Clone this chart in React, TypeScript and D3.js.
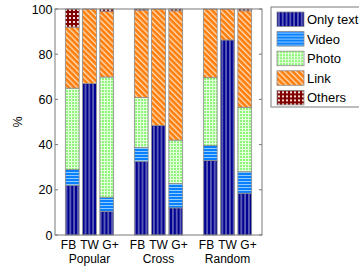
import * as d3 from "d3";

const GROUPS = ["Popular", "Cross", "Random"];
const NETWORKS = ["FB", "TW", "G+"];
const SERIES = ["Only text", "Video", "Photo", "Link", "Others"];

// one value per bar: Popular FB/TW/G+, Cross FB/TW/G+, Random FB/TW/G+
const onlyText = [22, 67, 10.5, 32.5, 48.5, 12, 33, 86.3, 18.5];
const video = [7, 0, 6.2, 6.3, 0, 10.8, 6.6, 0, 9.5];
const photo = [36, 0, 53.2, 22, 0, 19.2, 30, 0, 28.5];
const link = [27, 33, 29.1, 38.7, 51.5, 57.2, 30.4, 13.7, 42.7];
const others = [8, 0, 1, 0.5, 0, 0.8, 0, 0, 0.8];

const yTicks = [0, 20, 40, 60, 80, 100];

const W = 359, H = 266;
const M = { left: 55, right: 262, top: 9, bottom: 235 };
const FONT = "'Liberation Sans', Arial, sans-serif";
const FRAME = "#7a7a7a";
const PAT_IDS = ["pText", "pVideo", "pPhoto", "pLink", "pOthers"];

export default function App() {
  const rows = onlyText.map((_, i) => ({
    i,
    "Only text": onlyText[i],
    Video: video[i],
    Photo: photo[i],
    Link: link[i],
    Others: others[i],
  }));
  const stack = d3.stack<any>().keys(SERIES)(rows);

  // slot positions: groups of 3 bars with a one-slot gap
  const slot = (i: number) => Math.floor(i / 3) * 4 + (i % 3) + 1;
  const x = d3.scaleLinear().domain([0, 12]).range([M.left, M.right]);
  const y = d3.scaleLinear().domain([0, 100]).range([M.bottom, M.top]);
  const bw = (x(1) - x(0)) * 0.8;
  // the network labels sit a little wider apart than the bars (one spaced string in the original)
  const labelStep = 21;

  return (
    <svg width={W} height={H} style={{ position: "absolute", left: 0, top: 0, background: "#fff" }} fontFamily={FONT}>
      <defs>
        <pattern id="pText" patternUnits="userSpaceOnUse" width={3.8} height={4}>
          <rect width={3.8} height={4} fill="#00008f" />
          <rect x={1.4} width={1} height={4} fill="#a9acd6" />
        </pattern>
        <pattern id="pVideo" patternUnits="userSpaceOnUse" width={4} height={3}>
          <rect width={4} height={3} fill="#0a80ff" />
          <rect y={1} width={4} height={1} fill="#8fcbff" />
        </pattern>
        <pattern id="pPhoto" patternUnits="userSpaceOnUse" width={3} height={3}>
          <rect width={3} height={3} fill="#e4ffdc" />
          <rect width={2} height={2} fill="#8ef57a" />
        </pattern>
        <pattern id="pLink" patternUnits="userSpaceOnUse" width={4} height={4} patternTransform="rotate(-45)">
          <rect width={4} height={4} fill="#ff7d0a" />
          <rect width={1.3} height={4} fill="#ffe0bf" />
        </pattern>
        <pattern id="pOthers" patternUnits="userSpaceOnUse" width={4} height={4}>
          <rect width={4} height={4} fill="#800000" />
          <rect x={1} y={1} width={2} height={2} fill="#f4dada" />
        </pattern>
      </defs>

      {/* bars */}
      {stack.map((layer, si) =>
        layer.map((d, i) =>
          d[1] - d[0] > 0 ? (
            <rect
              key={`${si}-${i}`}
              x={x(slot(i)) - bw / 2}
              y={y(d[1])}
              width={bw}
              height={y(d[0]) - y(d[1])}
              fill={`url(#${PAT_IDS[si]})`}
              stroke="#8a8a8a"
              strokeWidth={0.8}
            />
          ) : null
        )
      )}

      {/* frame */}
      <rect x={M.left} y={M.top} width={M.right - M.left} height={M.bottom - M.top} fill="none" stroke={FRAME} strokeWidth={1} />

      {/* y ticks */}
      {yTicks.map((t) => (
        <g key={t}>
          <line x1={M.left} x2={M.left + 3} y1={y(t)} y2={y(t)} stroke={FRAME} />
          <line x1={M.right - 3} x2={M.right} y1={y(t)} y2={y(t)} stroke={FRAME} />
          <text x={M.left - 2.5} y={y(t) + 4.5} textAnchor="end" fontSize={12.5} fill="#000">
            {t}
          </text>
        </g>
      ))}
      <text transform={`translate(22,${(M.top + M.bottom) / 2}) rotate(-90)`} textAnchor="middle" fontSize={12.5}>
        %
      </text>

      {/* x labels: network names per group, then the group name */}
      {GROUPS.map((g, gi) => (
        <g key={g}>
          {NETWORKS.map((n, k) => (
            <text key={n} x={x(gi * 4 + 2) + (k - 1) * labelStep} y={249} textAnchor="middle" fontSize={12}>
              {n}
            </text>
          ))}
          <text x={x(gi * 4 + 2)} y={262.5} textAnchor="middle" fontSize={12}>
            {g}
          </text>
        </g>
      ))}

      {/* legend */}
      <rect x={271} y={7} width={100} height={100} fill="#fff" stroke={FRAME} />
      {SERIES.map((s, si) => (
        <g key={s} transform={`translate(277,${12 + si * 19.6})`}>
          <rect width={27} height={14.5} fill={`url(#${PAT_IDS[si]})`} stroke="#8a8a8a" strokeWidth={0.8} />
          <text x={30} y={12} fontSize={13}>
            {s}
          </text>
        </g>
      ))}
    </svg>
  );
}
